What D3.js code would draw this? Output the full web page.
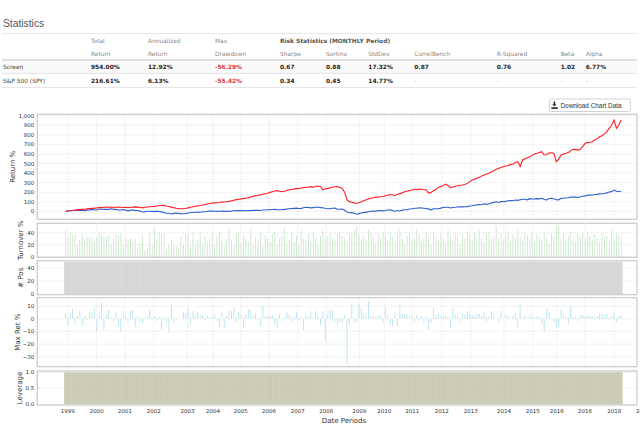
<!DOCTYPE html>
<html>
<head>
<meta charset="utf-8">
<script src="https://cdn.jsdelivr.net/npm/d3@7"></script>
<style>
  body { margin: 0; background: #fff; }
  svg { display: block; }
</style>
</head>
<body>
<svg id="chart" width="640" height="431"></svg>
<script>
// ---- data ----
const statColumns = [["Total", "Return"], ["Annualized", "Return"], ["Max", "Drawdown"], ["", "Sharpe"], ["", "Sortino"],
    ["", "StdDev"], ["", "CorrelBench"], ["", "R-Squared"], ["", "Beta"], ["", "Alpha"]];
const statRows = ["Screen", "S&P 500 (SPY)"];
const screenStats = ["954.00%", "12.92%", "-56.29%", "0.67", "0.88", "17.32%", "0.87", "0.76", "1.02", "6.77%"];
const spyStats = ["216.61%", "6.13%", "-55.42%", "0.34", "0.45", "14.77%", "-", "-", "-", "-"];

// monthly periods, Jan 1999 .. Apr 2018
const firstMonth = "1999-01";
const lastMonth = "2018-04";

const screenReturn = [
    0, 3, 5, 8, 12, 15, 18, 20, 22, 25, 28, 31,
    33, 36, 40, 38, 42, 44, 42, 45, 40, 42, 44, 42,
    40, 42, 38, 42, 44, 46, 44, 40, 36, 42, 45, 48,
    50, 52, 55, 58, 60, 62, 55, 50, 44, 38, 32, 28,
    26, 27, 30, 36, 42, 48, 52, 56, 60, 66, 70, 76,
    82, 86, 88, 90, 92, 96, 98, 100, 104, 110, 116, 122,
    126, 130, 134, 138, 142, 148, 156, 162, 168, 172, 178, 184,
    188, 198, 205, 212, 216, 210, 205, 210, 218, 225, 230, 232,
    240, 236, 244, 248, 252, 251, 258, 250, 262, 265, 258, 225,
    235, 240, 245, 251, 256, 258, 250, 240, 200, 118, 101, 95,
    88, 84, 90, 100, 111, 120, 128, 136, 142, 148, 150, 153,
    155, 162, 168, 175, 170, 165, 178, 185, 195, 205, 212, 216,
    222, 230, 226, 232, 230, 228, 223, 188, 200, 215, 230, 251,
    260, 268, 285, 270, 247, 255, 262, 268, 272, 275, 280, 292,
    310, 327, 335, 345, 355, 369, 380, 390, 397, 410, 425, 440,
    450, 458, 466, 474, 480, 488, 495, 510, 519, 467, 537, 550,
    560, 571, 585, 600, 607, 615, 623, 589, 595, 610, 613, 605,
    519, 545, 589, 600, 607, 615, 632, 648, 645, 640, 648, 680,
    711, 718, 722, 728, 745, 760, 780, 790, 810, 833, 870, 900,
    955, 868, 900, 955
];

const spyReturn = [
    0, 3, 6, 10, 8, 12, 10, 9, 7, 12, 15, 20,
    16, 14, 24, 22, 20, 22, 20, 26, 20, 20, 14, 15,
    18, 12, 5, 12, 13, 10, 9, 2, -8, -6, 0, 1,
    -1, -3, 2, -5, -6, -14, -20, -20, -28, -22, -18, -22,
    -24, -25, -24, -18, -13, -12, -10, -9, -10, -5, -4, 0,
    2, 3, 1, -1, 0, 2, -1, -1, 0, 2, 6, 9,
    7, 9, 7, 5, 8, 7, 11, 10, 11, 9, 14, 14,
    17, 17, 19, 20, 16, 16, 17, 20, 23, 27, 29, 31,
    33, 30, 31, 37, 42, 40, 36, 38, 43, 45, 38, 37,
    30, 27, 26, 32, 33, 22, 21, 23, 11, -8, -15, -14,
    -21, -30, -24, -17, -11, -11, -4, 0, 3, 1, 7, 9,
    5, 8, 14, 16, 7, 1, 8, 3, 12, 16, 16, 24,
    27, 32, 32, 36, 34, 32, 30, 23, 15, 26, 26, 27,
    33, 39, 43, 42, 34, 40, 42, 45, 48, 46, 47, 49,
    56, 58, 64, 67, 71, 69, 78, 73, 79, 87, 93, 99,
    92, 101, 103, 104, 110, 113, 111, 118, 114, 120, 126, 126,
    120, 132, 128, 130, 133, 130, 136, 123, 119, 134, 135, 131,
    121, 120, 135, 136, 139, 141, 148, 148, 148, 145, 152, 158,
    161, 169, 169, 171, 175, 177, 182, 183, 187, 193, 202, 206,
    222, 209, 204, 212
];

const turnover = [
    45, 33, 40, 35, 37, 20, 28, 38, 30, 33, 33, 32,
    25, 32, 40, 35, 33, 33, 38, 20, 30, 37, 35, 40,
    20, 30, 28, 30, 25, 30, 16, 22, 35, 12, 15, 40,
    20, 45, 28, 40, 38, 40, 12, 20, 28, 20, 18, 15,
    33, 20, 38, 38, 20, 40, 20, 28, 40, 22, 35, 25,
    30, 40, 20, 35, 42, 25, 18, 30, 45, 28, 20, 38,
    40, 22, 35, 30, 25, 45, 20, 32, 28, 40, 18, 35,
    30, 25, 38, 42, 20, 30, 35, 48, 22, 28, 40, 25,
    35, 20, 45, 30, 28, 38, 25, 42, 30, 20, 35, 45,
    30, 35, 40, 32, 28, 38, 42, 35, 30, 25, 38, 40,
    45, 52, 38, 30, 35, 28, 45, 40, 32, 25, 38, 30,
    42, 35, 28, 40, 33, 25, 38, 45, 30, 22, 35, 40,
    28, 32, 45, 38, 25, 30, 42, 35, 20, 40, 33, 28,
    38, 30, 25, 45, 35, 28, 40, 32, 22, 38, 30, 42,
    35, 28, 40, 33, 45, 30, 25, 38, 42, 30, 35, 52,
    30, 40, 28, 35, 42, 25, 38, 30, 45, 33, 28, 40,
    35, 30, 42, 25, 38, 33, 28, 40, 30, 22, 38, 35,
    50, 50, 32, 40, 28, 35, 42, 30, 25, 38, 33, 40,
    30, 42, 35, 28, 38, 30, 25, 40, 33, 35, 28, 45,
    30, 40, 35, 33
];

const positions = [
    50, 50, 50, 50, 50, 50, 50, 50, 50, 50, 50, 50,
    50, 50, 50, 50, 50, 50, 50, 50, 50, 50, 50, 50,
    50, 50, 50, 50, 50, 50, 50, 50, 50, 50, 50, 50,
    50, 50, 50, 50, 50, 50, 50, 50, 50, 50, 50, 50,
    50, 50, 50, 50, 50, 50, 50, 50, 50, 50, 50, 50,
    50, 50, 50, 50, 50, 50, 50, 50, 50, 50, 50, 50,
    50, 50, 50, 50, 50, 50, 50, 50, 50, 50, 50, 50,
    50, 50, 50, 50, 50, 50, 50, 50, 50, 50, 50, 50,
    50, 50, 50, 50, 50, 50, 50, 50, 50, 50, 50, 50,
    50, 50, 50, 50, 50, 50, 50, 50, 50, 50, 50, 50,
    50, 50, 50, 50, 50, 50, 50, 50, 50, 50, 50, 50,
    50, 50, 50, 50, 50, 50, 50, 50, 50, 50, 50, 50,
    50, 50, 50, 50, 50, 50, 50, 50, 50, 50, 50, 50,
    50, 50, 50, 50, 50, 50, 50, 50, 50, 50, 50, 50,
    50, 50, 50, 50, 50, 50, 50, 50, 50, 50, 50, 50,
    50, 50, 50, 50, 50, 50, 50, 50, 50, 50, 50, 50,
    50, 50, 50, 50, 50, 50, 50, 50, 50, 50, 50, 50,
    50, 50, 50, 50, 50, 50, 50, 50, 50, 50, 50, 50,
    50, 50, 50, 50, 50, 50, 50, 50, 50, 50, 50, 50,
    50, 50, 50, 50
];

const maxRet = [
    4, -6, 5, 8, -3, 2, 6, -6, 2, -1, 5, 5,
    8, -10, 5, 13, -9, 3, 7, 1, -2, 5, -6, -10,
    6, 2, -3, 6, 7, -6, 1, -2, -4, 1, 2, 7,
    1, 2, -2, 1, -9, 1, -3, -11, 11, -4, -1, 0,
    0, 5, 4, 8, -4, 6, 2, 5, 3, 3, -1, 2,
    1, 2, 3, -2, -6, 5, -7, 2, 6, 6, 9, -2,
    5, 3, -7, 3, 8, 6, 2, 4, -1, -6, 10, 2,
    2, 2, 3, -4, -7, 4, -2, 1, 5, 3, -3, 2,
    5, -2, 1, -9, 3, 2, 6, 1, 6, 2, -5, 6,
    -18, 3, 7, 6, -2, -5, -3, -3, 3, -36, -5, 12,
    -3, -2, 11, 8, 3, 2, 14, 2, 2, 1, 2, 3,
    -3, 9, 3, -5, -6, 5, -6, 11, 4, 4, 3, 2,
    3, -3, 3, -2, 2, -4, 2, -9, -3, 9, 3, 4,
    2, 2, 3, 2, -7, 8, 3, 2, -2, 4, 3, 6,
    4, 3, 2, 4, 4, 2, 5, -2, 2, 6, 3, 0,
    -3, 6, 0, 3, 2, 0, 2, 4, -7, 11, 1, 2,
    0, 3, 2, 1, 2, 1, -4, -10, 8, 5, 0, -3,
    -7, -6, 7, 3, 2, -4, 10, 1, 1, -2, 3, 3,
    2, 3, 2, 2, 1, 2, 4, 4, 3, 4, -1, 2,
    4, -3, 2, 3
];

const leverage = [
    1, 1, 1, 1, 1, 1, 1, 1, 1, 1, 1, 1,
    1, 1, 1, 1, 1, 1, 1, 1, 1, 1, 1, 1,
    1, 1, 1, 1, 1, 1, 1, 1, 1, 1, 1, 1,
    1, 1, 1, 1, 1, 1, 1, 1, 1, 1, 1, 1,
    1, 1, 1, 1, 1, 1, 1, 1, 1, 1, 1, 1,
    1, 1, 1, 1, 1, 1, 1, 1, 1, 1, 1, 1,
    1, 1, 1, 1, 1, 1, 1, 1, 1, 1, 1, 1,
    1, 1, 1, 1, 1, 1, 1, 1, 1, 1, 1, 1,
    1, 1, 1, 1, 1, 1, 1, 1, 1, 1, 1, 1,
    1, 1, 1, 1, 1, 1, 1, 1, 1, 1, 1, 1,
    1, 1, 1, 1, 1, 1, 1, 1, 1, 1, 1, 1,
    1, 1, 1, 1, 1, 1, 1, 1, 1, 1, 1, 1,
    1, 1, 1, 1, 1, 1, 1, 1, 1, 1, 1, 1,
    1, 1, 1, 1, 1, 1, 1, 1, 1, 1, 1, 1,
    1, 1, 1, 1, 1, 1, 1, 1, 1, 1, 1, 1,
    1, 1, 1, 1, 1, 1, 1, 1, 1, 1, 1, 1,
    1, 1, 1, 1, 1, 1, 1, 1, 1, 1, 1, 1,
    1, 1, 1, 1, 1, 1, 1, 1, 1, 1, 1, 1,
    1, 1, 1, 1, 1, 1, 1, 1, 1, 1, 1, 1,
    1, 1, 1, 1
];

// the date axis puts its year labels at these (uneven) points
const xTickDates = ["1999-01-28", "2000-01-30", "2001-01-23", "2002-01-21", "2003-03-25", "2004-02-09",
    "2005-01-26", "2006-01-19", "2007-01-16", "2008-01-12", "2009-03-06", "2010-01-16", "2011-01-05",
    "2012-01-12", "2013-01-13", "2014-03-10", "2015-03-08", "2016-01-06", "2016-12-29", "2018-01-04", "2019-01-01"];
const returnTicks = [0, 100, 200, 300, 400, 500, 600, 700, 800, 900, 1000];
const turnoverTicks = [0, 20, 40];
const posTicks = [0, 20, 40];
const maxRetTicks = [-30, -20, -10, 0, 10];
const leverageTicks = [0, 0.5, 1.0];

// ---- layout ----
const svg = d3.select("#chart");
const tableFont = "DejaVu Sans, Verdana, sans-serif";
const plotFont = "DejaVu Sans, sans-serif";

const parseDay = d3.timeParse("%Y-%m-%d");
const parseMonth = d3.timeParse("%Y-%m");
const months = d3.timeMonth.range(parseMonth(firstMonth), d3.timeMonth.offset(parseMonth(lastMonth), 1));

// ===== statistics table =====
svg.append("text")
    .attr("x", 3).attr("y", 26.6)
    .attr("font-family", "Liberation Sans, Helvetica, Arial, sans-serif")
    .attr("font-size", 10.3).attr("fill", "#555")
    .text("Statistics");

const colX = [91, 148, 215, 280, 326, 368.3, 414.3, 496.7, 560.7, 585.7];
const tableLines = [[33.5, 1, "#e6e6e6"], [59.9, 1.6, "#dddddd"], [73.4, 1, "#e3e3e3"], [87.4, 1, "#e3e3e3"]];

svg.append("rect").attr("x", 2).attr("y", 60.7).attr("width", 635).attr("height", 12.7).attr("fill", "#fafafa");

svg.selectAll(".tline").data(tableLines).enter().append("line")
    .attr("class", "tline")
    .attr("x1", 2).attr("x2", 637)
    .attr("y1", d => d[0]).attr("y2", d => d[0])
    .attr("stroke", d => d[2]).attr("stroke-width", d => d[1]);

const table = svg.append("g").attr("font-family", tableFont).attr("font-size", 5.9);

table.append("text").attr("x", 280).attr("y", 42.5)
    .attr("font-weight", "bold").attr("fill", "#555")
    .text("Risk Statistics (MONTHLY Period)");

statColumns.forEach((c, i) => {
    if (c[0]) table.append("text").attr("x", colX[i]).attr("y", 42.5).attr("fill", "#8a8a8a").text(c[0]);
    table.append("text").attr("x", colX[i]).attr("y", 55.7).attr("fill", "#8a8a8a").text(c[1]);
});

[screenStats, spyStats].forEach((row, r) => {
    const y = r === 0 ? 69.4 : 82.6;
    table.append("text").attr("x", 3).attr("y", y).attr("fill", "#444").text(statRows[r]);
    row.forEach((v, i) => {
        table.append("text")
            .attr("x", colX[i]).attr("y", y)
            .attr("fill", v === "-" ? "#aaa" : v.startsWith("-") ? "#d9343a" : "#222")
            .attr("font-weight", v === "-" ? "normal" : "600")
            .text(v);
    });
});

// ===== download button =====
const btn = svg.append("g");
btn.append("rect").attr("x", 549.5).attr("y", 99).attr("width", 81).attr("height", 12.5).attr("rx", 2)
    .attr("fill", "#fff").attr("stroke", "#c8c8c8").attr("stroke-width", 0.8);
btn.append("path")
    .attr("d", "M553.6,101.6 h1.6 v2.6 h1.4 l-2.2,2.3 l-2.2,-2.3 h1.4 z M551.4,107.2 h6.4 v1.7 h-6.4 z")
    .attr("fill", "#333");
btn.append("text").attr("x", 560.5).attr("y", 107.6)
    .attr("font-family", "Liberation Sans, Helvetica, Arial, sans-serif")
    .attr("font-size", 6.4).attr("fill", "#333")
    .text("Download Chart Data");

// ===== stacked panels =====
const left = 37.3, right = 637;
const x = d3.scaleTime()
    .domain([parseDay("1998-01-09"), parseDay("2018-10-18")])
    .range([left, right]);
const tickDates = xTickDates.map(parseDay);
const monthWidth = x(months[1]) - x(months[0]);

const panels = [
    {label: "Return %", top: 114.3, bottom: 219.3, y: d3.scaleLinear().domain([0, 1000]).range([211.3, 115.7]),
        ticks: returnTicks, fmt: d3.format(","), labelX: 12.5},
    {label: "Turnover %", top: 223.3, bottom: 257.3, y: d3.scaleLinear().domain([0, 40]).range([256.7, 232.7]),
        ticks: turnoverTicks, fmt: d3.format("d"), labelX: 20},
    {label: "# Pos", top: 260.7, bottom: 294.7, y: d3.scaleLinear().domain([0, 40]).range([294, 268.3]),
        ticks: posTicks, fmt: d3.format("d"), labelX: 20},
    {label: "Max Ret %", top: 297.7, bottom: 366.7, y: d3.scaleLinear().domain([0, 10]).range([318.7, 306]),
        ticks: maxRetTicks, fmt: d3.format("d"), labelX: 17.3},
    {label: "Leverage", top: 371, bottom: 405, y: d3.scaleLinear().domain([0, 1]).range([404.3, 372.3]),
        ticks: leverageTicks, fmt: d3.format(".1f"), labelX: 19.5}
];

function drawGrid(p, g) {
    g.selectAll(".vgrid").data(tickDates.filter(d => x(d) < right)).enter().append("line")
        .attr("x1", d => x(d)).attr("x2", d => x(d))
        .attr("y1", p.top).attr("y2", p.bottom)
        .attr("stroke", "#d8d8d8").attr("stroke-width", 0.6).attr("stroke-dasharray", "1,1");
    g.selectAll(".hgrid").data(p.ticks).enter().append("line")
        .attr("x1", left).attr("x2", right)
        .attr("y1", d => p.y(d)).attr("y2", d => p.y(d))
        .attr("stroke", "#d8d8d8").attr("stroke-width", 0.6).attr("stroke-dasharray", "1,1");
}

function drawBars(p, g, values, color, w, opacity) {
    g.selectAll(".bar").data(values).enter().append("rect")
        .attr("x", (d, i) => x(months[i]) - w / 2)
        .attr("width", w)
        .attr("y", d => Math.min(p.y(d), p.y(0)))
        .attr("height", d => Math.abs(p.y(d) - p.y(0)))
        .attr("fill", color)
        .attr("opacity", opacity);
}

panels.forEach((p, k) => {
    const g = svg.append("g");
    drawGrid(p, g);

    if (k === 0) {
        const line = d3.line().x((d, i) => x(months[i])).y(d => p.y(d));
        g.append("path").datum(spyReturn).attr("d", line)
            .attr("fill", "none").attr("stroke", "#2c5fd0").attr("stroke-width", 1.1);
        g.append("path").datum(screenReturn).attr("d", line)
            .attr("fill", "none").attr("stroke", "#ff1a24").attr("stroke-width", 1.1);
    } else if (k === 1) {
        drawBars(p, g, turnover, "#cde8cd", 0.9, 1);
    } else if (k === 2) {
        drawBars(p, g, positions, "#d0d0d0", monthWidth + 0.5, 0.8);
    } else if (k === 3) {
        drawBars(p, g, maxRet, "#bde5f0", 1, 1);
    } else {
        drawBars(p, g, leverage, "#c2c2a8", monthWidth + 0.5, 0.8);
    }

    // frame
    g.append("rect")
        .attr("x", left).attr("y", p.top)
        .attr("width", right - left).attr("height", p.bottom - p.top)
        .attr("fill", "none").attr("stroke", "#cdcdcd").attr("stroke-width", 1.3);

    // y tick labels
    g.selectAll(".ytick").data(p.ticks).enter().append("text")
        .attr("x", 34.3).attr("y", d => p.y(d) + 2)
        .attr("text-anchor", "end")
        .attr("font-family", plotFont).attr("font-size", 5.5).attr("fill", "#333")
        .text(d => p.fmt(d));

    // panel label
    const cy = (p.top + p.bottom) / 2;
    g.append("text")
        .attr("transform", `translate(${p.labelX + 2.5},${cy}) rotate(-90)`)
        .attr("text-anchor", "middle")
        .attr("font-family", plotFont).attr("font-size", 7).attr("fill", "#333")
        .text(p.label);
});

// x axis labels
svg.append("g").selectAll("text").data(tickDates).enter().append("text")
    .attr("x", d => x(d)).attr("y", 413.2)
    .attr("text-anchor", "middle")
    .attr("font-family", plotFont).attr("font-size", 5.5).attr("fill", "#333")
    .text(d => d3.timeFormat("%Y")(d3.timeYear(d)));

svg.append("text")
    .attr("x", 344).attr("y", 422.8)
    .attr("text-anchor", "middle")
    .attr("font-family", plotFont).attr("font-size", 7).attr("fill", "#333")
    .text("Date Periods");
</script>
</body>
</html>
